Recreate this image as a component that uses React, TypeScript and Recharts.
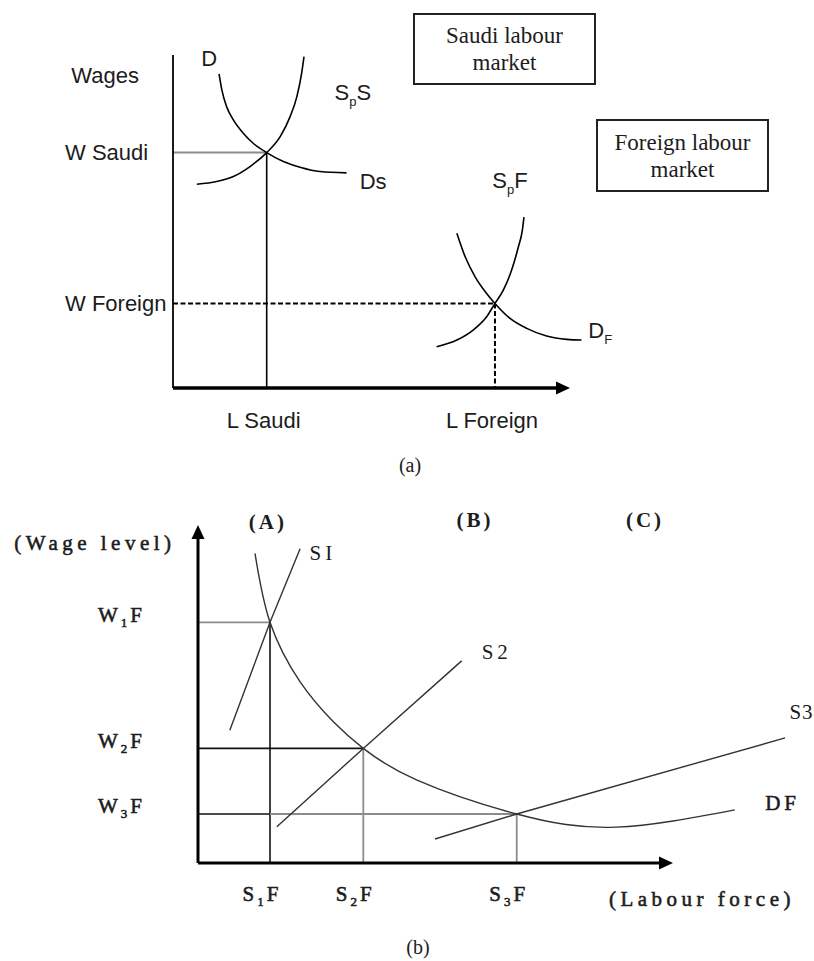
import React from 'react';
import { LineChart, Line, XAxis, YAxis, ReferenceLine, ReferenceDot } from 'recharts';

type Pt = { x: number; y: number };
type Weight = 'regular' | 'semi' | 'bold';
type Tick = { value: number; base: string; sub?: string; tail?: string };
type Tag = {
  x: number; y: number; base: string; sub?: string; tail?: string;
  anchor?: 'start' | 'middle' | 'end'; weight?: Weight; spacing?: number;
};

// ---------- (a) Saudi and foreign labour markets ----------
const saudiDemand: Pt[] = [
  { x: 11.6, y: 94.3 }, { x: 12.3, y: 89.5 }, { x: 13.5, y: 84.5 }, { x: 15.2, y: 80.5 },
  { x: 17.7, y: 76.5 }, { x: 20.2, y: 73.5 }, { x: 23.6, y: 70.7 }, { x: 27.8, y: 68.0 },
  { x: 32.0, y: 66.3 }, { x: 37.0, y: 65.0 }, { x: 43.7, y: 64.6 },
];
const saudiSupply: Pt[] = [
  { x: 6.0, y: 61.2 }, { x: 11.0, y: 62.0 }, { x: 15.2, y: 63.5 }, { x: 19.4, y: 66.5 },
  { x: 23.6, y: 70.7 }, { x: 27.0, y: 75.5 }, { x: 29.5, y: 81.5 }, { x: 31.2, y: 87.5 },
  { x: 32.4, y: 94.5 }, { x: 33.0, y: 99.5 },
];
const foreignSupply: Pt[] = [
  { x: 66.4, y: 12.4 }, { x: 71.5, y: 14.4 }, { x: 75.6, y: 17.4 }, { x: 79.0, y: 21.4 },
  { x: 81.1, y: 25.4 }, { x: 83.2, y: 29.4 }, { x: 85.3, y: 35.4 }, { x: 87.0, y: 42.4 },
  { x: 88.0, y: 47.4 }, { x: 88.4, y: 51.3 },
];
const foreignDemand: Pt[] = [
  { x: 71.5, y: 46.5 }, { x: 73.6, y: 39.4 }, { x: 76.1, y: 33.4 }, { x: 79.0, y: 28.4 },
  { x: 81.1, y: 25.4 }, { x: 84.9, y: 20.9 }, { x: 89.1, y: 17.9 }, { x: 94.1, y: 15.6 },
  { x: 99.2, y: 14.6 }, { x: 102.9, y: 14.4 },
];
const saudiEq: Pt = { x: 23.6, y: 70.7 };
const foreignEq: Pt = { x: 81.1, y: 25.4 };

const labourTicksA: Tick[] = [
  { value: saudiEq.x, base: 'L Saudi' },
  { value: foreignEq.x, base: 'L Foreign' },
];
const wageTicksA: Tick[] = [
  { value: saudiEq.y, base: 'W Saudi' },
  { value: foreignEq.y, base: 'W Foreign' },
];
const tagsA: Tag[] = [
  { x: -17.1, y: 94, base: 'Wages' },
  { x: 9.1, y: 99.1, base: 'D' },
  { x: 45.3, y: 88.9, base: 'S', sub: 'p', tail: 'S' },
  { x: 50.4, y: 62.2, base: 'Ds' },
  { x: 84.9, y: 62.5, base: 'S', sub: 'p', tail: 'F' },
  { x: 104.6, y: 17.4, base: 'D', sub: 'F', anchor: 'start' },
];
const marketBoxes = [
  { lines: ['Saudi labour', 'market'], left: 413, top: 13, width: 183, height: 72 },
  { lines: ['Foreign labour', 'market'], left: 596, top: 119, width: 173, height: 73 },
];

// ---------- (b) foreign labour supply shifts ----------
const eqB: Pt[] = [
  { x: 15.16, y: 71.2 },
  { x: 34.8, y: 33.9 },
  { x: 67.1, y: 14.5 },
];
const demandB: Pt[] = [
  { x: 12.0, y: 91.6 }, { x: 15.16, y: 71.2 }, { x: 21.5, y: 53.6 }, { x: 28.5, y: 41.8 },
  { x: 34.8, y: 33.9 }, { x: 46.0, y: 24.6 }, { x: 67.1, y: 14.5 }, { x: 88.0, y: 10.6 },
  { x: 113.0, y: 15.7 },
];
const supply1: Pt[] = [{ x: 6.7, y: 39.3 }, { x: 15.16, y: 71.2 }, { x: 21.5, y: 93.0 }];
const supply2: Pt[] = [{ x: 16.6, y: 10.7 }, { x: 34.8, y: 33.9 }, { x: 55.5, y: 59.8 }];
const supply3: Pt[] = [{ x: 49.9, y: 7.1 }, { x: 67.1, y: 14.5 }, { x: 123.6, y: 37.0 }];

const wageTicksB: Tick[] = [
  { value: eqB[0].y, base: 'W', sub: '1', tail: 'F' },
  { value: eqB[1].y, base: 'W', sub: '2', tail: 'F' },
  { value: eqB[2].y, base: 'W', sub: '3', tail: 'F' },
];
const labourTicksB: Tick[] = [
  { value: eqB[0].x, base: 'S', sub: '1', tail: 'F' },
  { value: eqB[1].x, base: 'S', sub: '2', tail: 'F' },
  { value: eqB[2].x, base: 'S', sub: '3', tail: 'F' },
];
const tagsB: Tag[] = [
  { x: -21.7, y: 94.7, base: '(Wage level)', weight: 'semi', spacing: 4.5 },
  { x: 14.7, y: 100.9, base: '(A)', weight: 'bold', spacing: 3 },
  { x: 58.3, y: 101.5, base: '(B)', weight: 'bold', spacing: 3 },
  { x: 94.1, y: 101.5, base: '(C)', weight: 'bold', spacing: 3 },
  { x: 26.3, y: 91.7, base: 'SI', spacing: 4 },
  { x: 62.9, y: 62.4, base: 'S2', spacing: 4 },
  { x: 124.5, y: 44.7, base: 'S3', anchor: 'start', spacing: 1 },
  { x: 119.4, y: 18.0, base: 'DF', anchor: 'start', weight: 'semi', spacing: 4 },
  { x: 106.1, y: -10.4, base: '(Labour force)', weight: 'semi', spacing: 4.5 },
];

const SANS = '"Liberation Sans", Arial, sans-serif';
const SERIF = '"Liberation Serif", "Times New Roman", serif';
const INK = '#1c1c1c';
const GREY = '#8c8c8c';

type RichProps = {
  x: number; y: number; base: string; sub?: string; tail?: string;
  anchor?: 'start' | 'middle' | 'end'; size: number; family: string; weight?: Weight; spacing?: number;
};

function RichText({ x, y, base, sub, tail, anchor = 'middle', size, family, weight = 'regular', spacing = 0 }: RichProps) {
  const subSize = Math.round(size * 0.6);
  const shift = Math.round(size * 0.25);
  const semi = weight === 'semi';
  return (
    <text
      x={x}
      y={y}
      dy={size * 0.35}
      textAnchor={anchor}
      fontSize={size}
      fontFamily={family}
      fontWeight={weight === 'bold' ? 700 : 400}
      fill={INK}
      stroke={semi ? INK : 'none'}
      strokeWidth={semi ? 0.55 : 0}
      style={{ letterSpacing: spacing }}
    >
      <tspan>{base}</tspan>
      {sub ? <tspan dy={shift} fontSize={subSize}>{sub}</tspan> : null}
      {tail ? <tspan dy={sub ? -shift : 0}>{tail}</tspan> : null}
    </text>
  );
}

const findTick = (list: Tick[], v: number) =>
  list.reduce((best, t) => (Math.abs(t.value - v) < Math.abs(best.value - v) ? t : best), list[0]);

function arrowRight(p: any) {
  return <path d={`M${p.cx},${p.cy} l-14,-6.5 l0,13 z`} fill="#000" />;
}
function arrowUp(p: any) {
  return <path d={`M${p.cx},${p.cy} l-6.5,14 l13,0 z`} fill="#000" />;
}

function PanelA() {
  return (
    <LineChart width={814} height={480} margin={{ top: 55, right: 204.3, bottom: 52, left: 0 }}>
      <XAxis
        type="number"
        dataKey="x"
        domain={[0, 110]}
        ticks={labourTicksA.map((t) => t.value)}
        interval={0}
        axisLine={false}
        tickLine={false}
        tickSize={0}
        tickMargin={0}
        height={40}
        tick={(p: any) => {
          const t = findTick(labourTicksA, p.payload.value);
          return <RichText x={p.x - 3} y={p.y + 32} base={t.base} size={22} family={SANS} />;
        }}
      />
      <YAxis
        type="number"
        domain={[0, 100]}
        ticks={wageTicksA.map((t) => t.value)}
        interval={0}
        axisLine={false}
        tickLine={false}
        tickSize={0}
        tickMargin={0}
        width={173}
        tick={(p: any) => {
          const t = findTick(wageTicksA, p.payload.value);
          return <RichText x={p.x - 108} y={p.y} base={t.base} anchor="start" size={22} family={SANS} />;
        }}
      />

      {/* equilibrium guides */}
      <ReferenceLine segment={[{ x: 0, y: saudiEq.y }, { x: saudiEq.x, y: saudiEq.y }]} stroke={GREY} strokeWidth={2} />
      <ReferenceLine segment={[{ x: saudiEq.x, y: saudiEq.y }, { x: saudiEq.x, y: 0 }]} stroke="#000" strokeWidth={1.6} />
      <ReferenceLine segment={[{ x: 0, y: foreignEq.y }, { x: foreignEq.x, y: foreignEq.y }]} stroke="#000" strokeWidth={2} strokeDasharray="5 2.5" />
      <ReferenceLine segment={[{ x: foreignEq.x, y: foreignEq.y }, { x: foreignEq.x, y: 0 }]} stroke="#000" strokeWidth={2} strokeDasharray="5 2.5" />

      {/* axes */}
      <ReferenceLine segment={[{ x: 0, y: 0 }, { x: 0, y: 100 }]} stroke="#000" strokeWidth={1.8} />
      <ReferenceLine segment={[{ x: 0, y: 0 }, { x: 97, y: 0 }]} stroke="#000" strokeWidth={3.5} />
      <ReferenceDot x={100} y={0} shape={arrowRight} />

      <Line data={saudiDemand} dataKey="y" type="monotone" stroke="#000" strokeWidth={1.6} dot={false} activeDot={false} isAnimationActive={false} />
      <Line data={saudiSupply} dataKey="y" type="monotone" stroke="#000" strokeWidth={1.6} dot={false} activeDot={false} isAnimationActive={false} />
      <Line data={foreignSupply} dataKey="y" type="monotone" stroke="#000" strokeWidth={1.6} dot={false} activeDot={false} isAnimationActive={false} />
      <Line data={foreignDemand} dataKey="y" type="monotone" stroke="#000" strokeWidth={1.6} dot={false} activeDot={false} isAnimationActive={false} />

      {tagsA.map((t, i) => (
        <ReferenceDot
          key={`a${i}`}
          x={t.x}
          y={t.y}
          ifOverflow="visible"
          shape={(p: any) => (
            <RichText x={p.cx} y={p.cy} base={t.base} sub={t.sub} tail={t.tail} anchor={t.anchor} size={22} family={SANS} />
          )}
        />
      ))}
      <ReferenceDot
        x={59.7}
        y={-23.1}
        ifOverflow="visible"
        shape={(p: any) => <RichText x={p.cx} y={p.cy} base="(a)" size={20} family={SERIF} />}
      />
    </LineChart>
  );
}

function PanelB() {
  return (
    <LineChart width={814} height={481} margin={{ top: 45, right: 8, bottom: 48, left: 0 }}>
      <XAxis
        type="number"
        dataKey="x"
        domain={[0, 128]}
        ticks={labourTicksB.map((t) => t.value)}
        interval={0}
        axisLine={false}
        tickLine={false}
        tickSize={0}
        tickMargin={0}
        height={50}
        tick={(p: any) => {
          const t = findTick(labourTicksB, p.payload.value);
          return (
            <RichText x={p.x - 8} y={p.y + 31} base={t.base} sub={t.sub} tail={t.tail} size={21} family={SERIF} weight="semi" spacing={3} />
          );
        }}
      />
      <YAxis
        type="number"
        domain={[0, 100]}
        ticks={wageTicksB.map((t) => t.value)}
        interval={0}
        axisLine={false}
        tickLine={false}
        tickSize={0}
        tickMargin={0}
        width={198}
        tick={(p: any) => {
          const t = findTick(wageTicksB, p.payload.value);
          return (
            <RichText x={p.x - 53} y={p.y - 8} base={t.base} sub={t.sub} tail={t.tail} anchor="end" size={21} family={SERIF} weight="semi" spacing={3} />
          );
        }}
      />

      {/* equilibrium guides */}
      <ReferenceLine segment={[{ x: 0, y: eqB[0].y }, { x: eqB[0].x, y: eqB[0].y }]} stroke={GREY} strokeWidth={1.8} />
      <ReferenceLine segment={[{ x: eqB[0].x, y: eqB[0].y }, { x: eqB[0].x, y: 0 }]} stroke="#111" strokeWidth={1.6} />
      <ReferenceLine segment={[{ x: 0, y: eqB[1].y }, { x: eqB[1].x, y: eqB[1].y }]} stroke="#111" strokeWidth={1.6} />
      <ReferenceLine segment={[{ x: eqB[1].x, y: eqB[1].y }, { x: eqB[1].x, y: 0 }]} stroke={GREY} strokeWidth={1.8} />
      <ReferenceLine segment={[{ x: 0, y: eqB[2].y }, { x: eqB[0].x, y: eqB[2].y }]} stroke="#111" strokeWidth={1.6} />
      <ReferenceLine segment={[{ x: eqB[0].x, y: eqB[2].y }, { x: eqB[2].x, y: eqB[2].y }]} stroke={GREY} strokeWidth={1.8} />
      <ReferenceLine segment={[{ x: eqB[2].x, y: eqB[2].y }, { x: eqB[2].x, y: 0 }]} stroke={GREY} strokeWidth={1.8} />

      {/* axes */}
      <ReferenceLine segment={[{ x: 0, y: 0 }, { x: 0, y: 97 }]} stroke="#000" strokeWidth={3} />
      <ReferenceLine segment={[{ x: 0, y: 0 }, { x: 97.5, y: 0 }]} stroke="#000" strokeWidth={3} />
      <ReferenceDot x={100} y={0} shape={arrowRight} />
      <ReferenceDot x={0} y={100} shape={arrowUp} />

      <Line data={demandB} dataKey="y" type="natural" stroke="#333" strokeWidth={1.4} dot={false} activeDot={false} isAnimationActive={false} />
      <Line data={supply1} dataKey="y" type="linear" stroke="#333" strokeWidth={1.4} dot={false} activeDot={false} isAnimationActive={false} />
      <Line data={supply2} dataKey="y" type="linear" stroke="#333" strokeWidth={1.4} dot={false} activeDot={false} isAnimationActive={false} />
      <Line data={supply3} dataKey="y" type="linear" stroke="#333" strokeWidth={1.4} dot={false} activeDot={false} isAnimationActive={false} />

      {tagsB.map((t, i) => (
        <ReferenceDot
          key={`b${i}`}
          x={t.x}
          y={t.y}
          ifOverflow="visible"
          shape={(p: any) => (
            <RichText x={p.cx} y={p.cy} base={t.base} anchor={t.anchor} size={21} family={SERIF} weight={t.weight} spacing={t.spacing} />
          )}
        />
      ))}
      <ReferenceDot
        x={46.3}
        y={-24.9}
        ifOverflow="visible"
        shape={(p: any) => <RichText x={p.cx} y={p.cy} base="(b)" size={20} family={SERIF} />}
      />
    </LineChart>
  );
}

export default function App() {
  return (
    <div style={{ position: 'absolute', left: 0, top: 0, width: 814, height: 961, background: '#fff', overflow: 'hidden' }}>
      <div style={{ position: 'absolute', left: 0, top: 0 }}>
        <PanelA />
      </div>
      {marketBoxes.map((b, i) => (
        <div
          key={i}
          style={{
            position: 'absolute',
            left: b.left,
            top: b.top,
            width: b.width,
            height: b.height,
            boxSizing: 'border-box',
            border: '2px solid #222',
            display: 'flex',
            flexDirection: 'column',
            alignItems: 'center',
            justifyContent: 'center',
            fontFamily: SERIF,
            fontSize: 23,
            lineHeight: '27px',
            color: INK,
            background: '#fff',
          }}
        >
          {b.lines.map((l) => (
            <div key={l}>{l}</div>
          ))}
        </div>
      ))}
      <div style={{ position: 'absolute', left: 0, top: 480 }}>
        <PanelB />
      </div>
    </div>
  );
}
